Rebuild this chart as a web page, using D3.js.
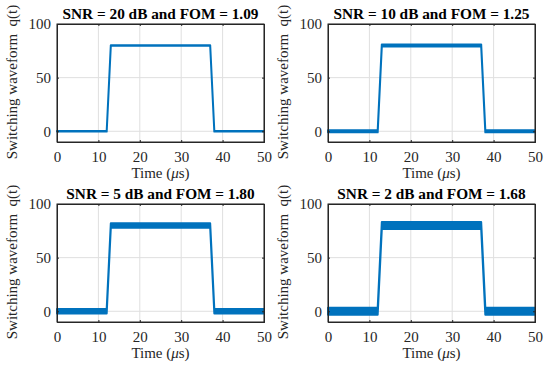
<!DOCTYPE html>
<html>
<head>
<meta charset="utf-8">
<script src="https://cdn.jsdelivr.net/npm/d3@7"></script>
<style>
body { margin: 0; background: #fff; }
text { font-family: "Liberation Serif", "Times New Roman", serif; fill: #262626; }
</style>
</head>
<body>
<svg id="chart" width="550" height="371"></svg>
<script>
// pulse shape (time in us, q)
var pulseTime  = [0, 12, 13, 37, 38, 50];
var pulseLevel = [0, 0, 80, 80, 0, 0];

// one entry per panel
var snrDb     = [20, 10, 5, 2];
var fomValues = ['1.09', '1.25', '1.80', '1.68'];
var noiseBand = [0.3, 1.0, 2.1, 3.2];   // half width of the noisy trace

var xTicks = [0, 10, 20, 30, 40, 50];
var yTicks = [0, 50, 100];

var svg = d3.select('#chart');
var blue = '#0072BD';

// axes boxes: [left, top]
var boxes = [[57, 24], [328, 24], [57, 204], [328, 204]];
var bw = 207, bh = 118;

var pts = pulseTime.map(function(t, i){ return {t: t, q: pulseLevel[i]}; });

boxes.forEach(function(b, k){
    var g = svg.append('g').attr('transform', 'translate(' + b[0] + ',' + b[1] + ')');

    var x = d3.scaleLinear().domain([0, 50]).range([0, bw]);
    var y = d3.scaleLinear().domain([-10, 100]).range([bh, 0]);

    // grid
    g.selectAll('line.gx').data(xTicks).enter().append('line')
        .attr('x1', function(d){ return x(d); }).attr('x2', function(d){ return x(d); })
        .attr('y1', 0).attr('y2', bh)
        .attr('stroke', '#dfdfdf').attr('stroke-width', 1);
    g.selectAll('line.gy').data(yTicks).enter().append('line')
        .attr('y1', function(d){ return y(d); }).attr('y2', function(d){ return y(d); })
        .attr('x1', 0).attr('x2', bw)
        .attr('stroke', '#dfdfdf').attr('stroke-width', 1);

    // noisy trace drawn as a band around the pulse
    var band = noiseBand[k];
    var area = d3.area()
        .x(function(d){ return x(d.t); })
        .y0(function(d){ return y(d.q - band); })
        .y1(function(d){ return y(d.q + band); });
    g.append('path').datum(pts)
        .attr('d', area)
        .attr('fill', blue)
        .attr('stroke', blue)
        .attr('stroke-width', 2)
        .attr('stroke-linejoin', 'round');

    // axes
    g.append('g').attr('transform', 'translate(0,' + bh + ')')
        .call(d3.axisBottom(x).tickValues(xTicks).tickSize(-2).tickPadding(9));
    g.append('g')
        .call(d3.axisLeft(y).tickValues(yTicks).tickSize(-2).tickPadding(6));
    g.append('g').call(d3.axisTop(x).tickValues(xTicks).tickSize(-2).tickFormat(''));
    g.append('g').attr('transform', 'translate(' + bw + ',0)')
        .call(d3.axisRight(y).tickValues(yTicks).tickSize(-2).tickFormat(''));
    g.selectAll('.domain').attr('stroke', '#262626');
    g.selectAll('.tick line').attr('stroke', '#262626');
    g.selectAll('.tick text').attr('font-size', 15).attr('fill', '#262626')
        .style('font-family', '"Liberation Serif", serif');
    g.append('rect').attr('width', bw).attr('height', bh)
        .attr('fill', 'none').attr('stroke', '#262626').attr('stroke-width', 1);

    // title
    g.append('text')
        .attr('x', bw / 2).attr('y', -5)
        .attr('text-anchor', 'middle')
        .attr('font-size', 15.3).attr('font-weight', 'bold')
        .style('fill', '#000')
        .text('SNR = ' + snrDb[k] + ' dB and FOM = ' + fomValues[k]);

    // x label
    var xl = g.append('text')
        .attr('x', bw / 2).attr('y', bh + 36)
        .attr('text-anchor', 'middle')
        .attr('font-size', 15);
    xl.append('tspan').text('Time (');
    xl.append('tspan').attr('font-style', 'italic').text('\u03bc');
    xl.append('tspan').text('s)');

    // y label
    g.append('text')
        .attr('transform', 'translate(-40,' + (bh / 2 - 1) + ') rotate(-90)')
        .attr('text-anchor', 'middle')
        .attr('font-size', 15)
        .style('white-space', 'pre')
        .text('Switching waveform  q(t)');
});
</script>
</body>
</html>
